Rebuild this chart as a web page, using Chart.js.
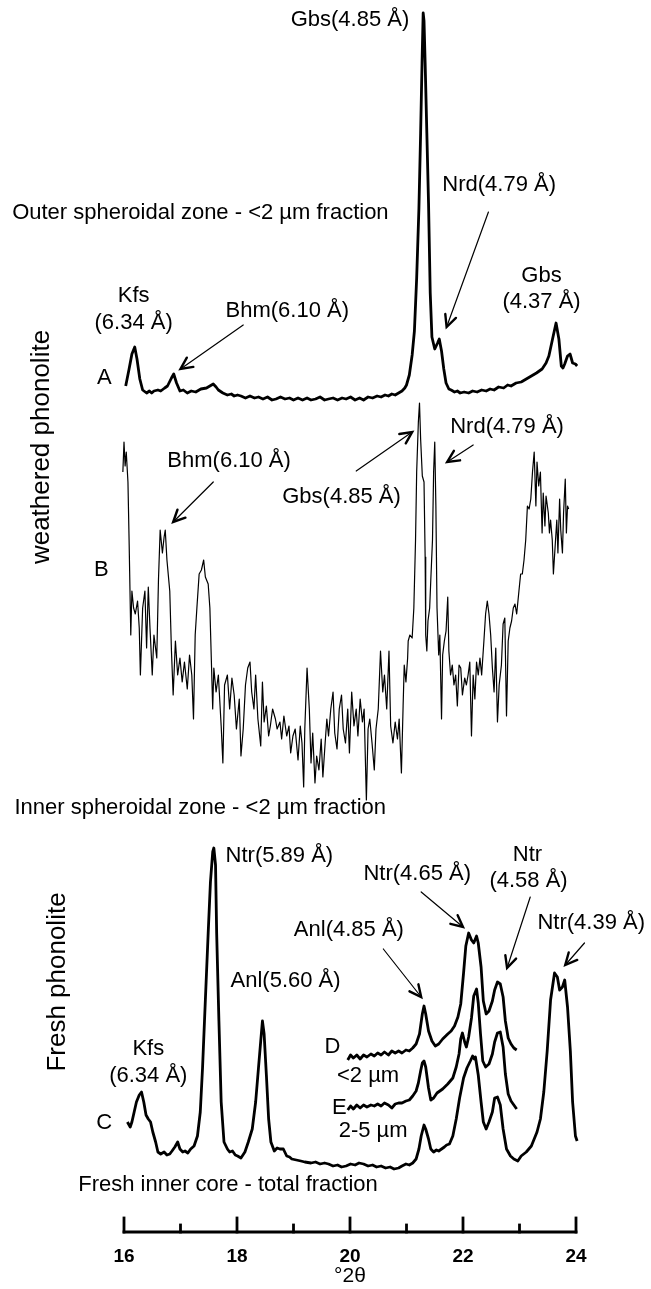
<!DOCTYPE html>
<html>
<head>
<meta charset="utf-8"/>
<script src="https://cdn.jsdelivr.net/npm/chart.js@4.4.0/dist/chart.umd.min.js"></script>
<style>
  html, body { margin: 0; padding: 0; background: #ffffff; }
  #wrap { width: 651px; height: 1289px; }
</style>
</head>
<body>
<div id="wrap"><canvas id="xrd" width="651" height="1289"></canvas></div>
<script>
// XRD patterns, [°2θ, intensity above the trace's own baseline]
var traceA = [[16.03,7],[16.09,24],[16.14,39],[16.19,46],[16.23,34],[16.28,14],[16.33,3],[16.40,0],[16.45,2],[16.49,0],[16.53,2],[16.60,3],[16.65,2],[16.72,5],[16.77,7],[16.84,15],[16.88,19],[16.93,10],[16.99,2],[17.05,3],[17.12,0],[17.19,2],[17.27,1],[17.36,4],[17.46,5],[17.52,7],[17.58,9],[17.63,6],[17.67,3],[17.75,0],[17.83,-2],[17.90,-1],[17.95,-3],[18.01,-2],[18.07,-3],[18.15,-5],[18.23,-3],[18.31,-5],[18.38,-4],[18.46,-6],[18.54,-4],[18.62,-7],[18.69,-6],[18.77,-4],[18.85,-6],[18.93,-5],[19.00,-7],[19.08,-5],[19.16,-7],[19.24,-5],[19.31,-7],[19.39,-6],[19.47,-4],[19.55,-7],[19.62,-6],[19.70,-5],[19.78,-7],[19.86,-5],[19.93,-6],[20.01,-4],[20.09,-7],[20.17,-5],[20.24,-7],[20.32,-4],[20.40,-5],[20.48,-3],[20.55,-4],[20.62,-2],[20.68,-3],[20.74,-1],[20.80,-2],[20.86,0],[20.92,2],[20.97,5],[21.00,8],[21.05,18],[21.10,38],[21.14,62],[21.18,115],[21.22,185],[21.25,260],[21.275,330],[21.295,380],[21.31,372],[21.33,330],[21.36,260],[21.39,190],[21.42,100],[21.45,56],[21.50,44],[21.55,50],[21.58,54],[21.62,42],[21.66,24],[21.70,10],[21.75,4],[21.79,3],[21.85,1],[21.90,2],[21.95,0],[22.02,1],[22.10,0],[22.17,2],[22.25,1],[22.33,3],[22.41,2],[22.48,4],[22.55,3],[22.63,6],[22.72,5],[22.79,8],[22.85,7],[22.94,10],[23.03,11],[23.12,14],[23.21,17],[23.30,20],[23.40,24],[23.47,30],[23.52,37],[23.585,54],[23.647,70],[23.697,54],[23.74,27],[23.77,25],[23.80,29],[23.85,37],[23.895,39],[23.94,30],[23.99,29],[24.02,27]];

var traceB = [[15.91,240],[15.92,267],[15.93,199],[15.96,264],[15.98,291],[16.00,321],[16.02,297],[16.04,311],[16.07,281],[16.09,223],[16.12,128],[16.14,172],[16.17,155],[16.20,149],[16.24,162],[16.27,135],[16.29,88],[16.33,155],[16.37,172],[16.40,115],[16.43,176],[16.46,135],[16.50,88],[16.53,128],[16.58,105],[16.61,183],[16.64,233],[16.68,210],[16.71,226],[16.73,233],[16.76,203],[16.81,172],[16.84,112],[16.87,68],[16.91,122],[16.95,88],[16.99,105],[17.03,81],[17.07,101],[17.12,74],[17.16,108],[17.20,88],[17.23,44],[17.26,128],[17.29,155],[17.33,189],[17.37,193],[17.41,203],[17.44,186],[17.49,179],[17.52,155],[17.55,95],[17.57,54],[17.59,95],[17.63,71],[17.67,88],[17.72,37],[17.75,0],[17.78,78],[17.83,88],[17.87,54],[17.91,85],[17.95,68],[17.99,34],[18.04,64],[18.07,7],[18.11,34],[18.15,78],[18.19,95],[18.23,101],[18.26,71],[18.30,54],[18.33,88],[18.37,44],[18.42,17],[18.45,81],[18.48,41],[18.52,57],[18.56,27],[18.59,37],[18.63,54],[18.68,44],[18.71,34],[18.76,41],[18.79,24],[18.83,47],[18.88,27],[18.92,37],[18.95,10],[18.99,27],[19.03,34],[19.08,3],[19.12,37],[19.15,20],[19.18,-24],[19.20,34],[19.24,95],[19.28,54],[19.31,0],[19.34,30],[19.38,-20],[19.41,7],[19.45,-7],[19.49,24],[19.52,-14],[19.56,20],[19.59,44],[19.62,27],[19.66,54],[19.70,71],[19.73,30],[19.77,14],[19.81,54],[19.85,68],[19.88,34],[19.92,20],[19.96,54],[19.99,10],[20.03,71],[20.07,37],[20.11,54],[20.14,27],[20.18,64],[20.22,41],[20.25,54],[20.29,-37],[20.32,34],[20.35,44],[20.39,20],[20.43,-7],[20.46,34],[20.50,54],[20.54,112],[20.58,71],[20.61,88],[20.65,54],[20.69,112],[20.72,37],[20.76,20],[20.80,41],[20.84,24],[20.87,44],[20.91,-10],[20.94,57],[20.96,98],[20.99,81],[21.02,105],[21.03,122],[21.06,128],[21.10,125],[21.13,155],[21.16,223],[21.18,291],[21.21,341],[21.23,360],[21.25,324],[21.28,287],[21.31,281],[21.33,206],[21.34,128],[21.36,112],[21.38,142],[21.41,155],[21.43,183],[21.46,223],[21.48,291],[21.50,321],[21.52,257],[21.54,155],[21.57,108],[21.59,128],[21.62,44],[21.64,108],[21.67,122],[21.70,132],[21.73,166],[21.75,112],[21.78,88],[21.81,98],[21.84,78],[21.87,88],[21.90,57],[21.93,98],[21.96,95],[21.99,68],[22.03,85],[22.06,78],[22.09,88],[22.12,101],[22.15,27],[22.18,88],[22.21,64],[22.24,101],[22.27,88],[22.30,105],[22.33,88],[22.37,122],[22.40,149],[22.43,162],[22.46,149],[22.49,128],[22.52,95],[22.55,71],[22.58,115],[22.61,41],[22.64,78],[22.68,98],[22.71,139],[22.74,145],[22.77,47],[22.80,122],[22.83,135],[22.86,142],[22.89,155],[22.92,159],[22.95,149],[22.99,172],[23.02,189],[23.05,189],[23.08,203],[23.11,223],[23.14,257],[23.17,254],[23.20,264],[23.23,291],[23.26,311],[23.29,257],[23.31,301],[23.34,277],[23.37,291],[23.40,230],[23.42,270],[23.45,237],[23.47,267],[23.51,250],[23.53,230],[23.55,243],[23.58,223],[23.60,189],[23.63,216],[23.66,243],[23.68,210],[23.71,264],[23.73,233],[23.76,210],[23.78,250],[23.81,284],[23.83,230],[23.85,257],[23.87,254]];

var traceC = [[16.06,44],[16.11,39],[16.14,44],[16.18,54],[16.22,64],[16.27,71],[16.31,74],[16.35,64],[16.39,51],[16.43,47],[16.47,44],[16.51,34],[16.56,24],[16.60,14],[16.65,12],[16.71,14],[16.76,11],[16.81,12],[16.85,15],[16.90,19],[16.95,24],[16.99,17],[17.04,14],[17.08,15],[17.13,13],[17.18,17],[17.24,20],[17.30,30],[17.35,54],[17.39,98],[17.44,166],[17.49,233],[17.53,284],[17.57,314],[17.59,318],[17.62,301],[17.64,233],[17.68,145],[17.72,64],[17.77,24],[17.83,17],[17.87,14],[17.92,15],[17.97,11],[18.01,10],[18.07,8],[18.14,14],[18.20,24],[18.27,37],[18.33,64],[18.38,98],[18.42,125],[18.45,145],[18.48,132],[18.52,91],[18.56,47],[18.60,24],[18.66,15],[18.71,18],[18.76,17],[18.82,17],[18.88,10],[18.93,9],[18.97,7],[19.05,6],[19.13,5],[19.20,4],[19.31,3],[19.39,4],[19.47,2],[19.55,3],[19.62,2],[19.70,0],[19.78,1],[19.85,-1],[19.93,0],[20.01,2],[20.09,1],[20.16,3],[20.24,2],[20.32,0],[20.40,1],[20.47,-1],[20.55,0],[20.63,-2],[20.71,-1],[20.78,-3],[20.86,-2],[20.92,0],[20.99,2],[21.05,1],[21.11,3],[21.17,7],[21.22,17],[21.26,30],[21.31,41],[21.34,37],[21.39,27],[21.43,17],[21.48,14],[21.53,16],[21.57,15],[21.62,17],[21.67,19],[21.71,21],[21.76,22],[21.82,30],[21.88,47],[21.94,68],[22.01,88],[22.07,98],[22.13,105],[22.17,110],[22.20,107],[22.22,109],[22.27,91],[22.32,64],[22.36,44],[22.41,37],[22.46,44],[22.52,54],[22.56,68],[22.61,69],[22.66,61],[22.71,37],[22.77,17],[22.84,10],[22.90,7],[22.97,5],[23.03,10],[23.12,14],[23.21,20],[23.31,34],[23.37,47],[23.43,74],[23.49,115],[23.55,166],[23.62,193],[23.67,189],[23.71,176],[23.76,179],[23.80,186],[23.85,159],[23.90,115],[23.94,64],[23.99,30],[24.02,25]];

var traceD = [[19.96,-2],[20.01,3],[20.06,0],[20.12,3],[20.18,-1],[20.24,3],[20.30,1],[20.37,4],[20.43,2],[20.49,5],[20.55,3],[20.61,6],[20.68,3],[20.74,7],[20.80,5],[20.86,7],[20.92,5],[20.99,8],[21.05,7],[21.11,10],[21.17,14],[21.23,24],[21.28,44],[21.31,52],[21.34,44],[21.39,27],[21.45,17],[21.51,12],[21.57,14],[21.64,19],[21.73,24],[21.79,27],[21.85,32],[21.91,41],[21.96,54],[22.01,85],[22.05,112],[22.10,125],[22.15,118],[22.19,115],[22.24,122],[22.27,115],[22.32,91],[22.36,57],[22.41,44],[22.46,47],[22.52,57],[22.56,68],[22.61,76],[22.66,74],[22.71,61],[22.75,37],[22.80,20],[22.85,14],[22.90,10],[22.95,8]];

var traceE = [[19.96,-2],[20.01,2],[20.06,-1],[20.12,3],[20.18,0],[20.24,3],[20.30,1],[20.37,3],[20.43,2],[20.49,4],[20.55,2],[20.61,5],[20.68,3],[20.74,0],[20.80,4],[20.86,5],[20.92,5],[20.99,7],[21.05,8],[21.11,12],[21.17,17],[21.21,25],[21.25,37],[21.28,45],[21.31,47],[21.34,41],[21.39,20],[21.43,8],[21.48,10],[21.54,15],[21.64,19],[21.73,24],[21.82,30],[21.88,41],[21.93,54],[21.96,69],[21.99,75],[22.03,66],[22.06,61],[22.10,71],[22.15,90],[22.19,112],[22.24,119],[22.27,105],[22.31,74],[22.35,47],[22.40,41],[22.46,44],[22.52,54],[22.56,66],[22.61,75],[22.66,76],[22.71,61],[22.75,34],[22.80,14],[22.85,7],[22.90,3],[22.95,-1]];

var tickValues = [16, 17, 18, 19, 20, 21, 22, 23, 24];
var tickLabels = ['16', '', '18', '', '20', '', '22', '', '24'];

// vertical stacking of the patterns
var offsets = { A: 839, B: 469, C: 66, D: 174, E: 124 };

// text placed in chart units [°2θ, height]
var labels = [
  ['Gbs(4.85 Å)', 20.00, 1212, 'center'],
  ['Nrd(4.79 Å)', 22.64, 1047, 'center'],
  ['Outer spheroidal zone - <2 µm fraction', 14.02, 1019, 'left'],
  ['Kfs', 16.17, 936, 'center'],
  ['(6.34 Å)', 16.17, 909, 'center'],
  ['Bhm(6.10 Å)', 18.89, 921, 'center'],
  ['Gbs', 23.39, 956, 'center'],
  ['(4.37 Å)', 23.39, 930, 'center'],
  ['A', 15.65, 854, 'center'],
  ['Bhm(6.10 Å)', 17.86, 771, 'center'],
  ['Gbs(4.85 Å)', 19.85, 735, 'center'],
  ['Nrd(4.79 Å)', 22.78, 805, 'center'],
  ['B', 15.60, 662, 'center'],
  ['Inner spheroidal zone - <2 µm fraction', 14.06, 424, 'left'],
  ['Ntr(5.89 Å)', 18.75, 376, 'center'],
  ['Anl(5.60 Å)', 18.86, 251, 'center'],
  ['Kfs', 16.43, 183, 'center'],
  ['(6.34 Å)', 16.43, 156, 'center'],
  ['C', 15.65, 109, 'center'],
  ['Anl(4.85 Å)', 19.98, 302, 'center'],
  ['Ntr(4.65 Å)', 21.19, 358, 'center'],
  ['Ntr', 23.14, 377, 'center'],
  ['(4.58 Å)', 23.16, 351, 'center'],
  ['Ntr(4.39 Å)', 24.27, 309, 'center'],
  ['D', 19.69, 185, 'center'],
  ['<2 µm', 20.32, 156, 'center'],
  ['E', 19.81, 124, 'center'],
  ['2-5 µm', 20.41, 101, 'center'],
  ['Fresh inner core - total fraction', 15.19, 47, 'left']
];
var sideLabels = [
  ['weathered phonolite', 14.55, 785],
  ['Fresh phonolite', 14.82, 250]
];
// arrows [from °2θ, from height, to °2θ, to height]
var arrows = [
  [22.45, 1020, 21.71, 905],
  [18.11, 907, 17.00, 863],
  [17.58, 750, 16.87, 710],
  [20.11, 761, 21.10, 800],
  [22.18, 787, 21.72, 770],
  [20.59, 283, 21.26, 235],
  [21.26, 340, 22.00, 305],
  [23.19, 335, 22.78, 264],
  [24.15, 289, 23.81, 267]
];

var FONT = '"Liberation Sans", Arial, Helvetica, sans-serif';

function shifted(trace, off) {
  return trace.map(function(p) { return { x: p[0], y: p[1] + off }; });
}

function series(trace, off, width) {
  return {
    data: shifted(trace, off),
    borderColor: '#000000',
    borderWidth: width,
    pointRadius: 0,
    tension: 0,
    fill: false,
    clip: false,
    borderJoinStyle: 'round'
  };
}

var overlay = {
  id: 'overlay',
  afterDraw: function(chart) {
    var ctx = chart.ctx;
    var xs = chart.scales.x, ys = chart.scales.y;
    var base = chart.chartArea.bottom;
    ctx.save();
    ctx.strokeStyle = '#000000';
    ctx.fillStyle = '#000000';

    // axis line with inward ticks
    ctx.lineWidth = 2.8;
    ctx.lineCap = 'square';
    ctx.beginPath();
    ctx.moveTo(xs.getPixelForValue(tickValues[0]), base);
    ctx.lineTo(xs.getPixelForValue(tickValues[tickValues.length - 1]), base);
    ctx.stroke();
    tickValues.forEach(function(v, i) {
      var px = xs.getPixelForValue(v);
      var len = tickLabels[i] ? 14 : 7;
      ctx.beginPath();
      ctx.moveTo(px, base);
      ctx.lineTo(px, base - len);
      ctx.stroke();
    });

    // arrows
    ctx.lineCap = 'round';
    arrows.forEach(function(a) {
      var x1 = xs.getPixelForValue(a[0]), y1 = ys.getPixelForValue(a[1]);
      var x2 = xs.getPixelForValue(a[2]), y2 = ys.getPixelForValue(a[3]);
      var ang = Math.atan2(y2 - y1, x2 - x1);
      ctx.lineWidth = 1.2;
      ctx.beginPath();
      ctx.moveTo(x1, y1);
      ctx.lineTo(x2, y2);
      ctx.stroke();
      ctx.lineWidth = 2.4;
      ctx.beginPath();
      ctx.moveTo(x2 - 13 * Math.cos(ang - 0.45), y2 - 13 * Math.sin(ang - 0.45));
      ctx.lineTo(x2, y2);
      ctx.lineTo(x2 - 13 * Math.cos(ang + 0.45), y2 - 13 * Math.sin(ang + 0.45));
      ctx.stroke();
    });

    // labels
    ctx.font = '22px ' + FONT;
    ctx.textBaseline = 'middle';
    labels.forEach(function(l) {
      ctx.textAlign = l[3];
      ctx.fillText(l[0], xs.getPixelForValue(l[1]), ys.getPixelForValue(l[2]));
    });

    ctx.font = '26px ' + FONT;
    ctx.textAlign = 'center';
    sideLabels.forEach(function(l) {
      ctx.save();
      ctx.translate(xs.getPixelForValue(l[1]), ys.getPixelForValue(l[2]));
      ctx.rotate(-Math.PI / 2);
      ctx.fillText(l[0], 0, 0);
      ctx.restore();
    });
    ctx.restore();
  }
};

new Chart(document.getElementById('xrd'), {
  type: 'line',
  data: {
    datasets: [
      series(traceA, offsets.A, 2.8),
      series(traceB, offsets.B, 1.2),
      series(traceC, offsets.C, 2.8),
      series(traceD, offsets.D, 2.8),
      series(traceE, offsets.E, 2.8)
    ]
  },
  options: {
    responsive: false,
    animation: false,
    layout: { padding: { left: 124, right: 75, top: 0, bottom: 0 } },
    plugins: { legend: { display: false }, tooltip: { enabled: false } },
    scales: {
      x: {
        type: 'linear',
        min: 16,
        max: 24,
        afterFit: function(scale) { scale.height = 57; },
        afterBuildTicks: function(scale) {
          scale.ticks = tickValues.map(function(v) { return { value: v }; });
        },
        grid: { display: false, drawTicks: false },
        border: { display: false },
        ticks: {
          autoSkip: false,
          maxRotation: 0,
          padding: 13,
          color: '#000000',
          font: { family: FONT, size: 19, weight: 'bold' },
          callback: function(v) { return tickLabels[tickValues.indexOf(v)]; }
        },
        title: {
          display: true,
          text: '°2θ',
          color: '#000000',
          font: { family: FONT, size: 21 },
          padding: { top: 0, bottom: 0 }
        }
      },
      y: { type: 'linear', display: false, min: 0, max: 1232 }
    }
  },
  plugins: [overlay]
});
</script>
</body>
</html>
